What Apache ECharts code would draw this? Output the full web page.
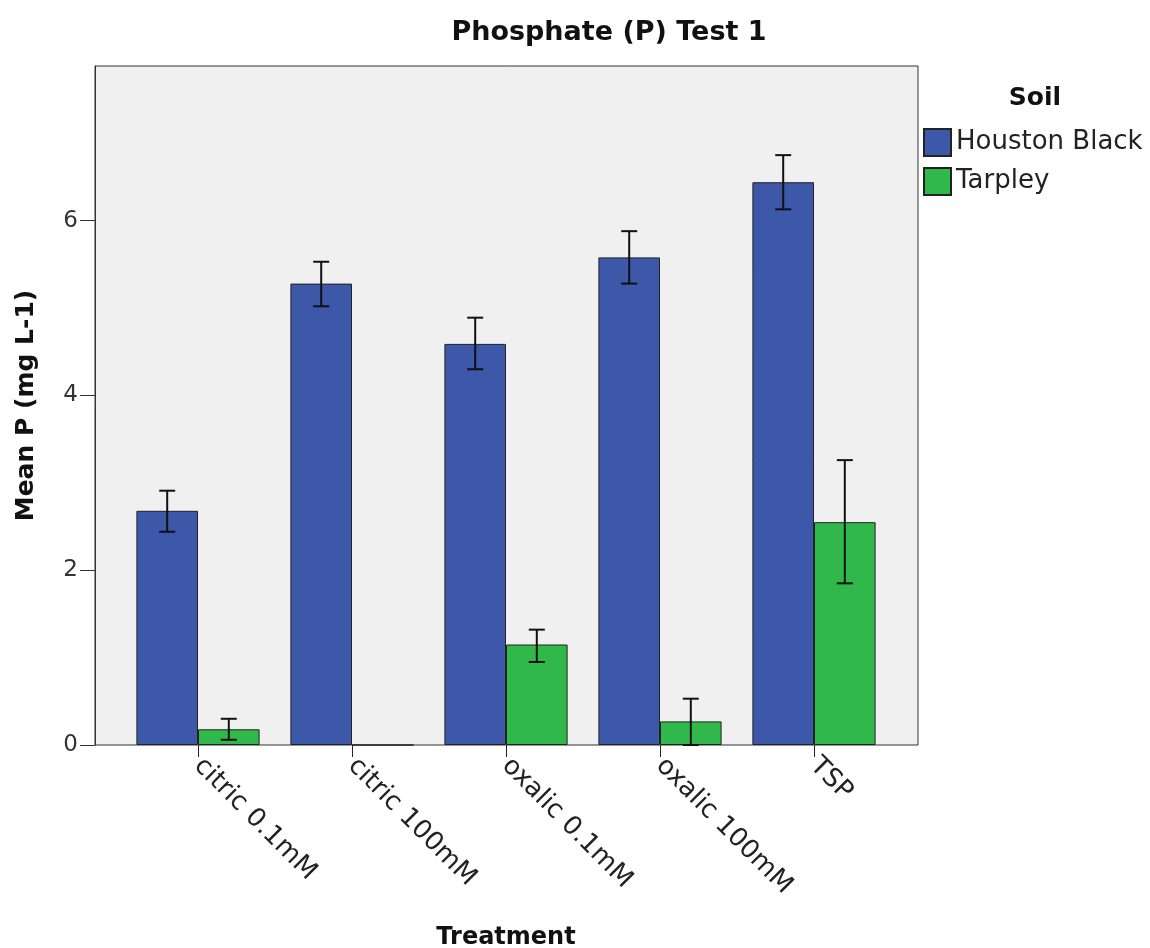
<!DOCTYPE html>
<html>
<head>
<meta charset="utf-8">
<script src="https://cdn.jsdelivr.net/npm/echarts@6/dist/echarts.min.js"></script>
<style>html,body{margin:0;padding:0;background:#fff;}#c{width:1150px;height:948px;}</style>
</head>
<body>
<div id="c"></div>
<script>
const categories = ['citric 0.1mM', 'citric 100mM', 'oxalic 0.1mM', 'oxalic 100mM', 'TSP'];
const hbMean = [2.68, 5.28, 4.59, 5.58, 6.44];
const hbLow  = [2.44, 5.02, 4.30, 5.28, 6.13];
const hbHigh = [2.91, 5.53, 4.89, 5.88, 6.75];
const tpMean = [0.18, 0, 1.15, 0.27, 2.55];
const tpLow  = [0.06, null, 0.95, 0.00, 1.85];
const tpHigh = [0.30, null, 1.32, 0.53, 3.26];
const seriesNames = ['Houston Black', 'Tarpley'];

const FONT = 'DejaVu Sans';
const yMax = 7.77;

function errData(lo, hi) {
  const out = [];
  for (let i = 0; i < categories.length; i++) {
    if (lo[i] != null && hi[i] != null) out.push([i, lo[i], hi[i]]);
  }
  return out;
}
function errRender(sign) {
  return function (params, api) {
    const x = api.value(0);
    const lo = api.coord([x, api.value(1)]);
    const hi = api.coord([x, api.value(2)]);
    const band = api.size([1, 0])[0];
    const cx = lo[0] + sign * band * 0.2;
    const cap = 8;
    const st = { stroke: '#111', lineWidth: 2 };
    return {
      type: 'group',
      children: [
        { type: 'line', shape: { x1: cx, y1: lo[1], x2: cx, y2: hi[1] }, style: st },
        { type: 'line', shape: { x1: cx - cap, y1: lo[1], x2: cx + cap, y2: lo[1] }, style: st },
        { type: 'line', shape: { x1: cx - cap, y1: hi[1], x2: cx + cap, y2: hi[1] }, style: st }
      ]
    };
  };
}

const chart = echarts.init(document.getElementById('c'), null, { renderer: 'canvas' });
chart.setOption({
  backgroundColor: '#ffffff',
  animation: false,
  title: [
    { text: 'Phosphate (P) Test 1', left: 604, top: 14, textAlign: 'center',
      textStyle: { fontFamily: FONT, fontWeight: 'bold', fontSize: 27, color: '#111' } },
    { text: 'Soil', left: 1030, top: 81, textAlign: 'center',
      textStyle: { fontFamily: FONT, fontWeight: 'bold', fontSize: 25, color: '#111' } }
  ],
  legend: {
    data: seriesNames, orient: 'vertical', left: 923, top: 128, padding: 0,
    icon: 'rect', itemWidth: 27, itemHeight: 27, itemGap: 10, selectedMode: false,
    textStyle: { fontFamily: FONT, fontSize: 26, color: '#222' }
  },
  grid: [
    { left: 95, top: 66, width: 823, height: 679, show: true, backgroundColor: '#f0f0f0',
      borderColor: '#333', borderWidth: 1, containLabel: false, outerBoundsMode: 'none' },
    { left: 121, top: 66, width: 770, height: 679, show: false, containLabel: false, outerBoundsMode: 'none' }
  ],
  xAxis: [
    { gridIndex: 0, type: 'value', show: false, min: 0, max: 1 },
    { gridIndex: 1, type: 'category', data: categories, boundaryGap: true,
      axisLine: { show: false },
      axisTick: { show: true, alignWithLabel: true, length: 12, lineStyle: { color: '#222', width: 1 } },
      axisLabel: { rotate: -45, margin: 17, fontFamily: FONT, fontSize: 26, color: '#222', interval: 0 },
      name: 'Treatment', nameLocation: 'middle', nameGap: 181, nameMoveOverlap: false,
      nameTextStyle: { fontFamily: FONT, fontWeight: 'bold', fontSize: 24, color: '#111' }
    }
  ],
  yAxis: [
    { gridIndex: 0, type: 'value', min: 0, max: yMax, interval: 2,
      axisLine: { show: true, lineStyle: { color: '#333', width: 1 } },
      axisTick: { show: true, length: 15, lineStyle: { color: '#333', width: 1 } },
      axisLabel: { margin: 17, fontFamily: FONT, fontSize: 23, color: '#333',
        showMaxLabel: false },
      splitLine: { show: false },
      name: 'Mean P (mg L-1)', nameLocation: 'middle', nameRotate: 90, nameGap: 56, nameMoveOverlap: false,
      nameTextStyle: { fontFamily: FONT, fontWeight: 'bold', fontSize: 25, color: '#111' }
    },
    { gridIndex: 1, type: 'value', min: 0, max: yMax, show: false, splitLine: { show: false } }
  ],
  series: [
    { name: seriesNames[0], type: 'bar', xAxisIndex: 1, yAxisIndex: 1, data: hbMean,
      barWidth: '40%', barGap: '0%',
      itemStyle: { color: '#3d57a9', borderColor: '#222', borderWidth: 1 } },
    { name: seriesNames[1], type: 'bar', xAxisIndex: 1, yAxisIndex: 1, data: tpMean,
      barWidth: '40%', barGap: '0%',
      itemStyle: { color: '#31b84a', borderColor: '#222', borderWidth: 1 } },
    { type: 'custom', xAxisIndex: 1, yAxisIndex: 1, data: errData(hbLow, hbHigh),
      encode: { x: 0, y: [1, 2] }, renderItem: errRender(-1), z: 10, silent: true },
    { type: 'custom', xAxisIndex: 1, yAxisIndex: 1, data: errData(tpLow, tpHigh),
      encode: { x: 0, y: [1, 2] }, renderItem: errRender(1), z: 10, silent: true }
  ]
});
</script>
</body>
</html>
